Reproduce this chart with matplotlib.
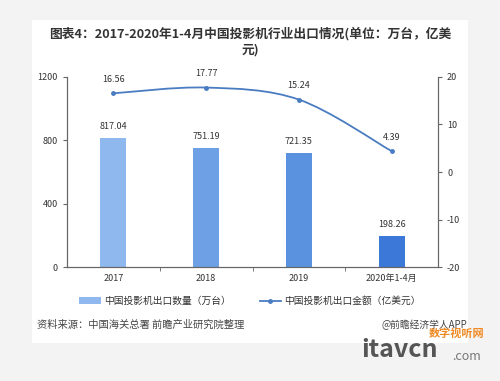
import numpy as np
import matplotlib.pyplot as plt
from matplotlib.patches import Rectangle, PathPatch
from matplotlib.path import Path
from matplotlib.lines import Line2D

plt.rcParams['font.family'] = ['Noto Sans CJK SC', 'DejaVu Sans']
plt.rcParams['axes.unicode_minus'] = False

categories = ['2017', '2018', '2019', '2020年1-4月']
quantity = [817.04, 751.19, 721.35, 198.26]   # 万台
amount = [16.56, 17.77, 15.24, 4.39]          # 亿美元
bar_colors = ['#8fb8ee', '#6ea0e6', '#5a92e0', '#3b78d8']
line_color = '#4a7cc2'

fig = plt.figure(figsize=(5, 3.81), dpi=100)
fig.patch.set_facecolor('#f3f3f3')
# white card
fig.patches.append(Rectangle((32/500, 1-343/381), 436/500, 323/381,
                             transform=fig.transFigure, facecolor='white',
                             edgecolor='none', zorder=-5))

ax = fig.add_axes([0.134, 0.299, 0.742, 0.499])
ax.set_facecolor('none')
x = np.arange(len(categories))
bars = ax.bar(x, quantity, width=0.28, color=bar_colors, zorder=2)
for xi, v in zip(x, quantity):
    ax.text(xi, v + 45, f'{v:.2f}', ha='center', va='bottom', fontsize=6.5, color='#333333')
ax.set_ylim(0, 1200)
ax.set_xlim(-0.5, 3.5)
ax.set_yticks([0, 400, 800, 1200])
ax.set_xticks(x)
ax.set_xticklabels(categories)
ax.set_xticks([0.5, 1.5, 2.5], minor=True)
ax.tick_params(axis='x', which='major', length=0, labelsize=6.5, pad=5, colors='#333333')
ax.tick_params(axis='x', which='minor', length=3, color='#666666', direction='out')
ax.tick_params(axis='y', labelsize=6.5, length=3, color='#666666', labelcolor='#333333', direction='out')
ax.spines['top'].set_visible(False)
for s in ['left', 'right', 'bottom']:
    ax.spines[s].set_color('#666666')
    ax.spines[s].set_linewidth(0.8)

ax2 = ax.twinx()
ax2.set_ylim(-20, 20)
ax2.set_yticks([-20, -10, 0, 10, 20])
ax2.tick_params(axis='y', labelsize=6.5, length=3, color='#666666', labelcolor='#333333', direction='out')
ax2.spines['top'].set_visible(False)
for s in ['left', 'right', 'bottom']:
    ax2.spines[s].set_color('#666666')
    ax2.spines[s].set_linewidth(0.8)

# smoothed line (cubic bezier through the data points)
pts = np.column_stack([x, amount]).astype(float)
verts = [tuple(pts[0])]
codes = [Path.MOVETO]
for i in range(len(pts) - 1):
    p0 = pts[i - 1] if i > 0 else pts[i]
    p1, p2 = pts[i], pts[i + 1]
    p3 = pts[i + 2] if i + 2 < len(pts) else pts[i + 1]
    c1 = p1 + (p2 - p0) / 6
    c2 = p2 - (p3 - p1) / 6
    verts += [tuple(c1), tuple(c2), tuple(p2)]
    codes += [Path.CURVE4] * 3
ax2.add_patch(PathPatch(Path(verts, codes), facecolor='none', edgecolor=line_color, lw=1.3, zorder=3))
ax2.plot(x, amount, 'o', color=line_color, ms=2.5, zorder=4)
for xi, v in zip(x, amount):
    ax2.text(xi, v + 2.0, f'{v:.2f}', ha='center', va='bottom', fontsize=6.5, color='#333333')

# title
fig.text(0.5, 1-34/381, '图表4：2017-2020年1-4月中国投影机行业出口情况(单位：万台，亿美',
         ha='center', va='center', fontsize=9.2, fontweight='bold', color='#333333')
fig.text(0.5, 1-50/381, '元)', ha='center', va='center', fontsize=9.2,
         fontweight='bold', color='#333333')

# legend
handles = [Rectangle((0, 0), 1, 1, facecolor='#8fb8ee', edgecolor='none'),
           Line2D([], [], color=line_color, lw=1.3, marker='o', ms=2.5)]
fig.legend(handles, ['中国投影机出口数量（万台）', '中国投影机出口金额（亿美元）'],
           loc='center', bbox_to_anchor=(0.5, 1-301/381), ncol=2, frameon=False,
           fontsize=7, handlelength=2.2, columnspacing=3, handletextpad=0.3,
           labelcolor='#333333')

# source and footer marks
fig.text(37/500, 1-325/381, '资料来源：中国海关总署 前瞻产业研究院整理', fontsize=7.4,
         color='#444444', va='center')
fig.text(467/500, 1-325/381, '@前瞻经济学人APP', fontsize=7, color='#444444',
         va='center', ha='right')
fig.text(484/500, 1-333/381, '数字视听网', fontsize=8, color='#f08a24',
         va='center', ha='right', fontweight='bold', style='italic')
fig.text(361/500, 1-350/381, 'itavcn', fontsize=18, color='#555555',
         va='center', ha='left', fontweight='bold')
fig.text(452/500, 1-356/381, '.com', fontsize=9, color='#777777', va='center', ha='left')

fig.savefig('out.png', dpi=100, facecolor=fig.get_facecolor())
